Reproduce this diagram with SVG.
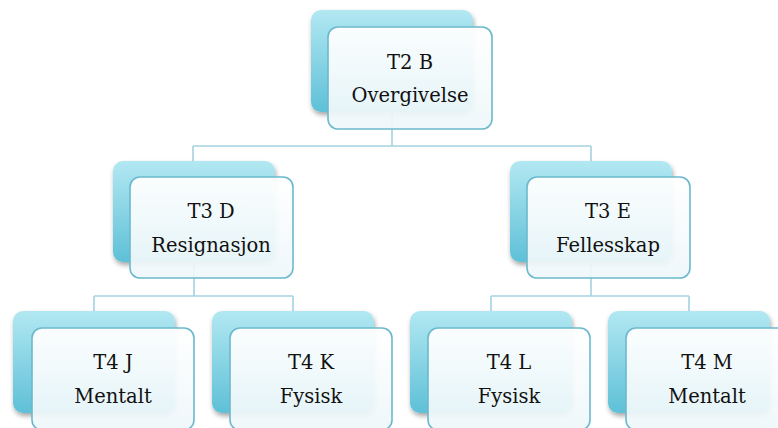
<svg xmlns="http://www.w3.org/2000/svg" width="778" height="428" viewBox="0 0 778 428">
  <defs>
    <linearGradient id="backFill" x1="0" y1="0" x2="0" y2="1">
      <stop offset="0" stop-color="#b2e8f2"/>
      <stop offset="1" stop-color="#5ec0d7"/>
    </linearGradient>
    <linearGradient id="frontFill" x1="0" y1="0" x2="0" y2="1">
      <stop offset="0" stop-color="#ffffff" stop-opacity="0.95"/>
      <stop offset="1" stop-color="#eef7fa" stop-opacity="0.92"/>
    </linearGradient>
    <filter id="shadow" x="-10%" y="-10%" width="125%" height="130%">
      <feGaussianBlur in="SourceAlpha" stdDeviation="2.5"/>
      <feOffset dx="1" dy="3" result="b"/>
      <feComponentTransfer><feFuncA type="linear" slope="0.35"/></feComponentTransfer>
      <feMerge><feMergeNode/><feMergeNode in="SourceGraphic"/></feMerge>
    </filter>
  </defs>
  <style>
    .back { fill: url(#backFill); filter: url(#shadow); }
    .front { fill: url(#frontFill); stroke: #6bb9cd; stroke-width: 1.6; }
    .conn { fill: none; stroke: #a3d3e0; stroke-width: 1.6; }
    text { font-family: "DejaVu Serif", "Liberation Serif", serif; font-size: 19.5px; fill: #111; text-anchor: middle; }
  </style>
  <rect width="778" height="428" fill="#ffffff"/>

  <g id="connectors">
    <path class="conn" d="M392 112 V146 M193 146 H591 M193 146 V161 M591 146 V161"/>
    <path class="conn" d="M194 262 V296 M94 296 H293 M94 296 V311 M293 296 V311"/>
    <path class="conn" d="M591 262 V296 M491 296 H689 M491 296 V311 M689 296 V311"/>
  </g>

  <g id="t2b">
    <rect class="back" x="311" y="10" width="162" height="102" rx="10"/>
    <rect class="front" x="328" y="27" width="164" height="102" rx="10"/>
    <text x="410" y="69">T2 B</text>
    <text x="410" y="102">Overgivelse</text>
  </g>

  <g id="t3d">
    <rect class="back" x="113" y="161" width="162" height="101" rx="10"/>
    <rect class="front" x="130" y="177" width="163" height="101" rx="10"/>
    <text x="211" y="218">T3 D</text>
    <text x="211" y="252">Resignasjon</text>
  </g>

  <g id="t3e">
    <rect class="back" x="510" y="161" width="162" height="101" rx="10"/>
    <rect class="front" x="527" y="177" width="163" height="101" rx="10"/>
    <text x="608" y="218">T3 E</text>
    <text x="608" y="252">Fellesskap</text>
  </g>

  <g id="t4j">
    <rect class="back" x="13" y="311" width="162" height="102" rx="10"/>
    <rect class="front" x="32" y="328" width="162" height="102" rx="10"/>
    <text x="113" y="369">T4 J</text>
    <text x="113" y="403">Mentalt</text>
  </g>

  <g id="t4k">
    <rect class="back" x="212" y="311" width="162" height="102" rx="10"/>
    <rect class="front" x="230" y="328" width="162" height="102" rx="10"/>
    <text x="311" y="369">T4 K</text>
    <text x="311" y="403">Fysisk</text>
  </g>

  <g id="t4l">
    <rect class="back" x="410" y="311" width="162" height="102" rx="10"/>
    <rect class="front" x="428" y="328" width="162" height="102" rx="10"/>
    <text x="509" y="369">T4 L</text>
    <text x="509" y="403">Fysisk</text>
  </g>

  <g id="t4m">
    <rect class="back" x="608" y="311" width="162" height="102" rx="10"/>
    <rect class="front" x="626" y="328" width="162" height="102" rx="10"/>
    <text x="707" y="369">T4 M</text>
    <text x="707" y="403">Mentalt</text>
  </g>
</svg>
